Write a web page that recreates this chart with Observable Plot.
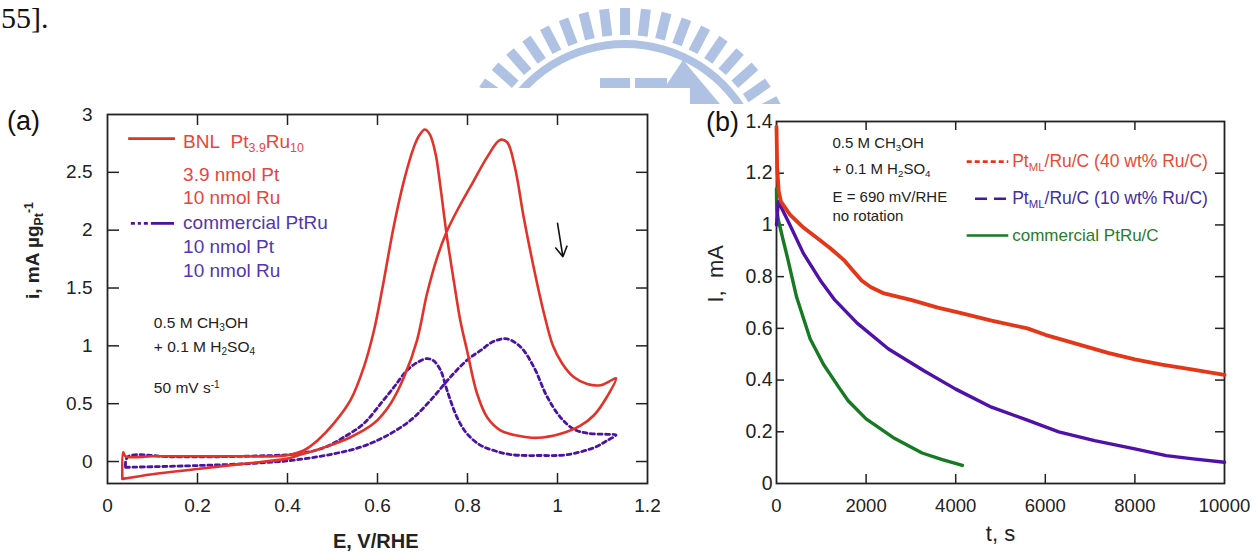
<!DOCTYPE html>
<html>
<head>
<meta charset="utf-8">
<script src="https://cdn.jsdelivr.net/npm/d3@7"></script>
<script src="https://cdn.jsdelivr.net/npm/@observablehq/plot@0.6"></script>
<style>
  body { margin: 0; background: #fff; }
  #page { position: relative; width: 1260px; height: 560px; overflow: hidden; background: #fff;
          font-family: "Liberation Sans", Arial, Helvetica, sans-serif; }
  .abs { position: absolute; }
  .tag { position: absolute; font-family: "Liberation Sans", Arial, sans-serif; font-size: 27px; color: #111; line-height: 1; }
  .ref { position: absolute; font-family: "Liberation Serif", "Times New Roman", serif; font-size: 30px; color: #111; line-height: 1; }
</style>
</head>
<body>
<div id="page"></div>
<script>
// ---------- (a) cyclic voltammograms: E (V/RHE) vs i (mA per µg Pt) ----------
// BNL Pt3.9Ru10: anodic sweep followed by cathodic sweep (closed loop)
const bnlE = [0.033, 0.1, 0.2, 0.3, 0.4, 0.43, 0.48, 0.54, 0.592, 0.629, 0.659, 0.688, 0.71, 0.733, 0.753, 0.777, 0.81, 0.845, 0.872, 0.888, 0.905, 0.925, 0.947, 0.97, 0.99, 1.01, 1.036, 1.066, 1.096, 1.114, 1.13,
              1.11, 1.081, 1.051, 1.007, 0.955, 0.91, 0.873, 0.844, 0.821, 0.799, 0.784, 0.77, 0.753, 0.74, 0.729, 0.716, 0.705, 0.693, 0.681, 0.659, 0.636, 0.61, 0.592, 0.57, 0.54, 0.503, 0.466, 0.436, 0.392, 0.3, 0.2, 0.1, 0.04, 0.035, 0.033];
const bnlI = [-0.15, -0.11, -0.065, -0.02, 0.025, 0.06, 0.12, 0.21, 0.33, 0.50, 0.73, 1.05, 1.45, 1.77, 1.98, 2.17, 2.40, 2.64, 2.78, 2.76, 2.55, 2.11, 1.68, 1.28, 1.00, 0.85, 0.73, 0.67, 0.66, 0.69, 0.72,
              0.56, 0.40, 0.31, 0.24, 0.205, 0.225, 0.27, 0.38, 0.59, 0.96, 1.22, 1.55, 1.98, 2.37, 2.66, 2.83, 2.87, 2.82, 2.72, 2.43, 2.03, 1.48, 1.13, 0.82, 0.53, 0.33, 0.18, 0.095, 0.05, 0.045, 0.045, 0.045, 0.045, 0.08, -0.15];
// commercial PtRu
const comE = [0.04, 0.2, 0.35, 0.43, 0.503, 0.562, 0.614, 0.673, 0.718, 0.762, 0.8, 0.829, 0.859, 0.888, 0.918, 0.947, 0.977, 1.007, 1.036, 1.066, 1.11, 1.13,
              1.11, 1.081, 1.022, 0.962, 0.896, 0.859, 0.829, 0.799, 0.777, 0.755, 0.74, 0.725, 0.71, 0.69, 0.666, 0.636, 0.607, 0.57, 0.525, 0.481, 0.429, 0.3, 0.15, 0.045, 0.04];
const comI = [-0.05, -0.035, -0.01, 0.02, 0.067, 0.124, 0.21, 0.355, 0.53, 0.73, 0.88, 0.96, 1.04, 1.06, 0.99, 0.82, 0.56, 0.38, 0.28, 0.245, 0.235, 0.23,
              0.18, 0.12, 0.06, 0.052, 0.06, 0.095, 0.14, 0.24, 0.38, 0.61, 0.79, 0.87, 0.89, 0.86, 0.79, 0.64, 0.50, 0.33, 0.21, 0.12, 0.07, 0.045, 0.04, 0.04, -0.05];

const xTicksA = [0, 0.2, 0.4, 0.6, 0.8, 1, 1.2];
const xTickLabelsA = ["0", "0.2", "0.4", "0.6", "0.8", "1", "1.2"];
const yTicksA = [0, 0.5, 1, 1.5, 2, 2.5, 3];
const yTickLabelsA = ["0", "0.5", "1", "1.5", "2", "2.5", "3"];
const legendLabelsA = ["BNL\u00a0\u00a0Pt_{3.9}Ru_{10}", "3.9 nmol Pt", "10 nmol Ru", "commercial PtRu", "10 nmol Pt", "10 nmol Ru"];
const conditionsA = ["0.5 M CH_{3}OH", "+ 0.1 M H_{2}SO_{4}", "50 mV s^{-1}"];
const axisLabelXA = "E, V/RHE";
const axisLabelYA = "i, mA µg_{Pt}^{-1}";
const sweepArrowStart = [1.0, 2.06];
const sweepArrowEnd = [1.012, 1.77];

// ---------- (b) chronoamperometry: t (s) vs I (mA) ----------
const pt40T = [0, 15, 50, 100, 300, 600, 900, 1200, 1500, 1700, 1900, 2100, 2400, 3000, 3600, 4100, 4800, 5600, 6000, 6700, 7400, 8000, 8600, 9300, 10000];
const pt40I = [1.38, 1.22, 1.13, 1.09, 1.04, 0.99, 0.95, 0.91, 0.865, 0.825, 0.785, 0.76, 0.735, 0.71, 0.68, 0.66, 0.63, 0.60, 0.575, 0.54, 0.505, 0.48, 0.46, 0.44, 0.42];
const pt10T = [0, 40, 100, 300, 600, 1000, 1300, 1800, 2500, 3300, 4000, 4800, 5600, 6300, 7100, 8000, 8700, 9300, 10000];
const pt10I = [1.0, 1.09, 1.07, 1.0, 0.89, 0.78, 0.71, 0.62, 0.52, 0.435, 0.365, 0.295, 0.245, 0.2, 0.166, 0.134, 0.108, 0.095, 0.082];
const comT = [0, 5, 40, 150, 250, 450, 750, 1050, 1400, 1600, 2000, 2600, 3250, 3700, 4150];
const comCurI = [1.14, 1.06, 1.02, 0.94, 0.87, 0.72, 0.56, 0.46, 0.37, 0.32, 0.25, 0.178, 0.118, 0.092, 0.07];

const xTicksB = [0, 2000, 4000, 6000, 8000, 10000];
const xTickLabelsB = ["0", "2000", "4000", "6000", "8000", "10000"];
const yTicksB = [0, 0.2, 0.4, 0.6, 0.8, 1, 1.2, 1.4];
const yTickLabelsB = ["0", "0.2", "0.4", "0.6", "0.8", "1", "1.2", "1.4"];
const legendLabelsB = ["Pt_{ML}/Ru/C (40 wt% Ru/C)", "Pt_{ML}/Ru/C (10 wt% Ru/C)", "commercial PtRu/C"];
const conditionsB = ["0.5 M CH_{3}OH", "+ 0.1 M H_{2}SO_{4}", "E = 690 mV/RHE", "no rotation"];
const axisLabelXB = "t, s";
const axisLabelYB = "I,\u00a0\u00a0mA";

// ---------- colours ----------
const redA = "#e2332a", purpleA = "#4c12a4", redTextA = "#e6463d", purpleTextA = "#5237ad";
const redB = "#e53617", purpleB = "#5010aa", greenB = "#167a22";
const redTextB = "#e84a32", purpleTextB = "#4330a0", greenTextB = "#2b7a2f";
const ink = "#222";
const fontFamily = "'Liberation Sans', Arial, Helvetica, sans-serif";

const page = d3.select("#page");

// ---------- background emblem (light blue arc of teeth) ----------
const emblem = page.append("svg").attr("class", "abs")
  .style("left", "0px").style("top", "0px")
  .attr("width", 1260).attr("height", 560);
const eg = emblem.append("g").attr("fill", "#afc2e4").attr("transform", "translate(625,182)");
for (let k = -9; k <= 9; k++) {
  eg.append("rect").attr("x", -5).attr("y", -174).attr("width", 10).attr("height", 27)
    .attr("transform", `rotate(${k * 6.9})`);
}
eg.append("path").attr("d", d3.arc()({innerRadius: 134, outerRadius: 142, startAngle: -1.13, endAngle: 1.13}));
eg.append("rect").attr("x", -25).attr("y", -104).attr("width", 30).attr("height", 12);
eg.append("rect").attr("x", 10).attr("y", -104).attr("width", 32).attr("height", 12);
eg.append("path").attr("d", "M58,-122 L38,-92 L40,-60 L110,-60 Z");

// ---------- helpers ----------
// turn _{..} and ^{..} markup inside SVG text into sub/superscript tspans
function richText(svg) {
  d3.select(svg).selectAll("text").each(function () {
    const s = this.textContent;
    if (!/[_^]\{/.test(s)) return;
    this.textContent = "";
    const re = /([_^])\{([^}]*)\}|([^_^]+)/g;
    let m;
    while ((m = re.exec(s))) {
      const t = document.createElementNS("http://www.w3.org/2000/svg", "tspan");
      if (m[1]) {
        t.textContent = m[2];
        t.setAttribute("font-size", "65%");
        t.setAttribute("baseline-shift", m[1] === "_" ? "-32%" : "48%");
      } else {
        t.textContent = m[3];
      }
      this.appendChild(t);
    }
  });
}
function place(node, left, top) {
  node.style.position = "absolute";
  node.style.left = left + "px";
  node.style.top = top + "px";
  page.node().appendChild(node);
  richText(node);
}
const pick = (ticks, labels) => d => labels[ticks.indexOf(d)];

// ---------- panel (a) ----------
const wA = 690, hA = 472, mlA = 107, mrA = 43, mtA = 26, mbA = 77;
const innerWA = wA - mlA - mrA, innerHA = hA - mtA - mbA;
const bnl = bnlE.map((e, k) => ({E: e, i: bnlI[k]}));
const com = comE.map((e, k) => ({E: e, i: comI[k]}));
const legendRowsA = [2.762, 2.477, 2.277, 2.063, 1.854, 1.652];
const legendA = legendLabelsA.map((label, k) => ({label, E: 0.168, i: legendRowsA[k]}));
const condRowsA = [1.198, 0.99, 0.636];
const condA = conditionsA.map((label, k) => ({label, E: 0.103, i: condRowsA[k]}));

const plotA = Plot.plot({
  width: wA, height: hA,
  marginLeft: mlA, marginRight: mrA, marginTop: mtA, marginBottom: mbA,
  x: {domain: [0, 1.2]},
  y: {domain: [-0.19, 3]},
  style: {fontFamily, color: ink, background: "white", overflow: "visible"},
  marks: [
    Plot.frame({stroke: ink, strokeWidth: 1.8}),
    Plot.tickX(xTicksA.slice(1, -1), {x: d => d, insetBottom: innerHA - 11, stroke: ink, strokeWidth: 1.5}),
    Plot.tickX(xTicksA.slice(1, -1), {x: d => d, insetTop: innerHA - 10, stroke: ink, strokeWidth: 1.5}),
    Plot.tickY(yTicksA.slice(0, -1), {y: d => d, insetRight: innerWA - 12, stroke: ink, strokeWidth: 1.5}),
    Plot.tickY(yTicksA.slice(0, -1), {y: d => d, insetLeft: innerWA - 11, stroke: ink, strokeWidth: 1.5}),
    Plot.axisX(xTicksA, {anchor: "bottom", tickSize: 0, tickPadding: 15, fontSize: 19, tickFormat: pick(xTicksA, xTickLabelsA), label: null}),
    Plot.axisY(yTicksA, {anchor: "left", tickSize: 0, tickPadding: 15, fontSize: 19, tickFormat: pick(yTicksA, yTickLabelsA), label: null}),
    Plot.line(com, {x: "E", y: "i", stroke: purpleA, strokeWidth: 2.8, strokeDasharray: "4,3.5", curve: "catmull-rom"}),
    Plot.line(bnl, {x: "E", y: "i", stroke: redA, strokeWidth: 2.6, curve: "catmull-rom"}),
    Plot.arrow([0], {x1: () => sweepArrowStart[0], y1: () => sweepArrowStart[1], x2: () => sweepArrowEnd[0], y2: () => sweepArrowEnd[1],
                     stroke: "#111", strokeWidth: 1.6, headLength: 11}),
    // legend
    Plot.ruleY([2.792], {x1: 0.047, x2: 0.151, stroke: redA, strokeWidth: 2.8}),
    Plot.ruleY([2.058], {x1: 0.053, x2: 0.149, stroke: purpleA, strokeWidth: 2.8, strokeDasharray: "4,3,3,3,4,3,24"}),
    Plot.text(legendA.slice(0, 3), {x: "E", y: "i", text: "label", textAnchor: "start", fill: redTextA, fontSize: 19}),
    Plot.text(legendA.slice(3), {x: "E", y: "i", text: "label", textAnchor: "start", fill: purpleTextA, fontSize: 19}),
    // experimental conditions
    Plot.text(condA, {x: "E", y: "i", text: "label", textAnchor: "start", fill: ink, fontSize: 15.5}),
    // axis titles
    Plot.text([axisLabelYA], {frameAnchor: "left", text: d => d, rotate: -90, dx: -75, fontSize: 19, fontWeight: "bold", fill: ink}),
    Plot.text([{E: 0.596, label: axisLabelXA}], {x: "E", frameAnchor: "bottom", text: "label", dy: 64, fontSize: 20, fontWeight: "bold", fill: ink})
  ]
});
place(plotA, 0, 88);

// ---------- panel (b) ----------
const wB = 570, hB = 456, mlB = 86, mrB = 36, mtB = 17, mbB = 77;
const innerWB = wB - mlB - mrB, innerHB = hB - mtB - mbB;
const pt40 = pt40T.map((t, k) => ({t, I: pt40I[k]}));
const pt10 = pt10T.map((t, k) => ({t, I: pt10I[k]}));
const comB = comT.map((t, k) => ({t, I: comCurI[k]}));
const legendRowsB = [1.245, 1.101, 0.959];
const legendB = legendLabelsB.map((label, k) => ({label, t: 5261, I: legendRowsB[k]}));
const condRowsB = [1.317, 1.215, 1.107, 1.035];
const condB = conditionsB.map((label, k) => ({label, t: 1250, I: condRowsB[k]}));

const plotB = Plot.plot({
  width: wB, height: hB,
  marginLeft: mlB, marginRight: mrB, marginTop: mtB, marginBottom: mbB,
  x: {domain: [0, 10000]},
  y: {domain: [0, 1.4]},
  style: {fontFamily, color: ink, background: "white", overflow: "visible"},
  marks: [
    Plot.frame({stroke: ink, strokeWidth: 1.8}),
    Plot.tickX(xTicksB.slice(1, -1), {x: d => d, insetBottom: innerHB - 9, stroke: ink, strokeWidth: 1.5}),
    Plot.tickX(xTicksB.slice(1, -1), {x: d => d, insetTop: innerHB - 9, stroke: ink, strokeWidth: 1.5}),
    Plot.tickY(yTicksB.slice(1, -1), {y: d => d, insetRight: innerWB - 8, stroke: ink, strokeWidth: 1.5}),
    Plot.tickY(yTicksB.slice(1, -1), {y: d => d, insetLeft: innerWB - 9, stroke: ink, strokeWidth: 1.5}),
    Plot.axisX(xTicksB, {anchor: "bottom", tickSize: 0, tickPadding: 15, fontSize: 18.5, tickFormat: pick(xTicksB, xTickLabelsB), label: null}),
    Plot.axisY(yTicksB, {anchor: "left", tickSize: 0, tickPadding: 4, fontSize: 19.5, tickFormat: pick(yTicksB, yTickLabelsB), label: null}),
    Plot.line(comB, {x: "t", y: "I", stroke: greenB, strokeWidth: 3.4}),
    Plot.line(pt10, {x: "t", y: "I", stroke: purpleB, strokeWidth: 3.4}),
    Plot.line(pt40, {x: "t", y: "I", stroke: redB, strokeWidth: 3.8}),
    // legend
    Plot.ruleY([1.245], {x1: 4257, x2: 5185, stroke: redB, strokeWidth: 2.6, strokeDasharray: "5,3"}),
    Plot.ruleY([1.101], {x1: 4442, x2: 5150, stroke: purpleB, strokeWidth: 2.6, strokeDasharray: "12,7"}),
    Plot.ruleY([0.959], {x1: 4257, x2: 5185, stroke: greenB, strokeWidth: 2.6}),
    Plot.text(legendB.slice(0, 1), {x: "t", y: "I", text: "label", textAnchor: "start", fill: redTextB, fontSize: 17.5}),
    Plot.text(legendB.slice(1, 2), {x: "t", y: "I", text: "label", textAnchor: "start", fill: purpleTextB, fontSize: 17.5}),
    Plot.text(legendB.slice(2), {x: "t", y: "I", text: "label", textAnchor: "start", fill: greenTextB, fontSize: 17}),
    // experimental conditions
    Plot.text(condB, {x: "t", y: "I", text: "label", textAnchor: "start", fill: ink, fontSize: 15}),
    // axis titles
    Plot.text([axisLabelYB], {frameAnchor: "left", text: d => d, rotate: -90, dx: -61, fontSize: 22, fill: ink}),
    Plot.text([{t: 5000, label: axisLabelXB}], {x: "t", frameAnchor: "bottom", text: "label", dy: 57, fontSize: 22, fill: ink})
  ]
});
place(plotB, 690, 104);

// ---------- panel tags and running text ----------
page.append("div").attr("class", "tag").style("left", "7px").style("top", "108px").text("(a)");
page.append("div").attr("class", "tag").style("left", "706px").style("top", "109px").text("(b)");
page.append("div").attr("class", "ref").style("left", "1px").style("top", "3px").text("55].");
</script>
</body>
</html>
